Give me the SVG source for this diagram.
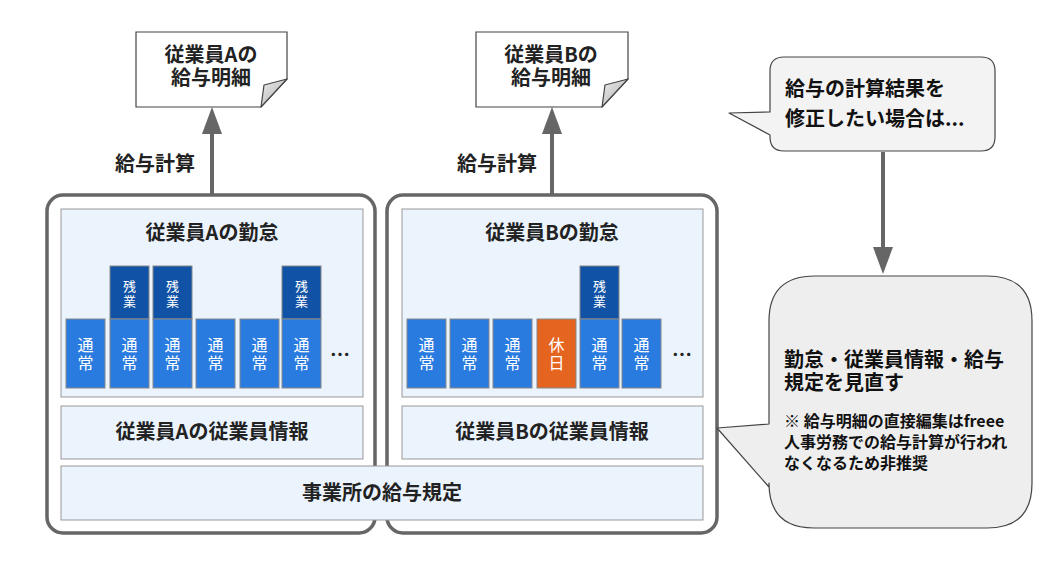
<svg xmlns="http://www.w3.org/2000/svg" width="1047" height="562" viewBox="0 0 1047 562">
<style>
text{font-family:"Noto Sans CJK JP","Noto Sans",sans-serif;}
.b{font-weight:bold;fill:#222;font-size:20px;text-anchor:middle;}
.cont{fill:#fff;stroke:#666;stroke-width:3.5;}
.panel{fill:#ebf3fc;stroke:#999;stroke-width:1;}
.n{fill:#2a7be0;stroke:#888;stroke-width:1;}
.o{fill:#0f52a6;stroke:#888;stroke-width:1;}
.h{fill:#e5641f;stroke:#888;stroke-width:1;}
.bt{fill:#fff;font-size:16px;text-anchor:middle;writing-mode:vertical-rl;letter-spacing:2px;}
.st{fill:#fff;font-size:13px;text-anchor:middle;writing-mode:vertical-rl;letter-spacing:2px;}
.doc{fill:#fff;stroke:#444;stroke-width:1.2;}
.flap{fill:url(#fg);stroke:#444;stroke-width:1.2;stroke-linejoin:round;}
.arr{stroke:#666;stroke-width:4;fill:none;}
.ah{fill:#666;}
.call{stroke:#444;stroke-width:1.2;stroke-linejoin:round;}
.cl{font-weight:bold;fill:#111;font-size:20px;}
.cs{font-weight:bold;fill:#111;font-size:16px;}
</style>
<defs>
<linearGradient id="fg" x1="0" y1="0" x2="1" y2="1">
<stop offset="0" stop-color="#eee"/><stop offset="1" stop-color="#aaa"/>
</linearGradient>
</defs>

<g id="connectors">
<line class="arr" x1="212" y1="195" x2="212" y2="130"/>
<polygon class="ah" points="212,107 202,134 222,134"/>
<line class="arr" x1="552" y1="195" x2="552" y2="130"/>
<polygon class="ah" points="552,107 542,134 562,134"/>
<line class="arr" x1="883" y1="152" x2="883" y2="250"/>
<polygon class="ah" points="883,274 873,247 893,247"/>
<text class="b" x="155" y="171">給与計算</text>
<text class="b" x="497" y="171">給与計算</text>
</g>

<g id="doc-a">
<path class="doc" d="M136,32 H287 V79 L261,107 H136 Z"/>
<path class="flap" d="M287,79 L264,85 L261,107 Z"/>
<text class="b" x="211" y="62">従業員Aの<tspan x="211" dy="23">給与明細</tspan></text>
</g>
<g id="doc-b">
<path class="doc" d="M476,32 H628 V79 L602,107 H476 Z"/>
<path class="flap" d="M628,79 L605,85 L602,107 Z"/>
<text class="b" x="551" y="62">従業員Bの<tspan x="551" dy="23">給与明細</tspan></text>
</g>

<g id="container-a">
<rect class="cont" x="47" y="195" width="328" height="338" rx="16"/>
</g>
<g id="container-b">
<rect class="cont" x="387" y="195" width="330" height="338" rx="16"/>
</g>

<g id="attendance-a">
<rect class="panel" x="61" y="209" width="302" height="188"/>
<text class="b" x="212" y="240">従業員Aの勤怠</text>
<rect class="n" x="66" y="319" width="39" height="69"/>
<rect class="o" x="110" y="266" width="39" height="53"/>
<rect class="n" x="110" y="319" width="39" height="69"/>
<rect class="o" x="153" y="266" width="39" height="53"/>
<rect class="n" x="153" y="319" width="39" height="69"/>
<rect class="n" x="196" y="319" width="39" height="69"/>
<rect class="n" x="240" y="319" width="39" height="69"/>
<rect class="o" x="282" y="266" width="39" height="53"/>
<rect class="n" x="282" y="319" width="39" height="69"/>
<text class="bt" x="85.5" y="355">通常</text>
<text class="bt" x="129.5" y="355">通常</text>
<text class="bt" x="172.5" y="355">通常</text>
<text class="bt" x="215.5" y="355">通常</text>
<text class="bt" x="259.5" y="355">通常</text>
<text class="bt" x="301.5" y="355">通常</text>
<text class="st" x="129.5" y="295">残業</text>
<text class="st" x="172.5" y="295">残業</text>
<text class="st" x="301.5" y="295">残業</text>
<text class="b" x="340" y="362">…</text>
</g>

<g id="attendance-b">
<rect class="panel" x="402" y="209" width="301" height="188"/>
<text class="b" x="552" y="240">従業員Bの勤怠</text>
<rect class="n" x="407" y="319" width="39" height="69"/>
<rect class="n" x="450" y="319" width="39" height="69"/>
<rect class="n" x="493" y="319" width="39" height="69"/>
<rect class="h" x="537" y="319" width="39" height="69"/>
<rect class="o" x="580" y="266" width="39" height="53"/>
<rect class="n" x="580" y="319" width="39" height="69"/>
<rect class="n" x="622" y="319" width="39" height="69"/>
<text class="bt" x="426.5" y="355">通常</text>
<text class="bt" x="469.5" y="355">通常</text>
<text class="bt" x="512.5" y="355">通常</text>
<text class="bt" x="556.5" y="355">休日</text>
<text class="bt" x="599.5" y="355">通常</text>
<text class="bt" x="641.5" y="355">通常</text>
<text class="st" x="599.5" y="295">残業</text>
<text class="b" x="682" y="362">…</text>
</g>

<g id="info-a">
<rect class="panel" x="61" y="406" width="302" height="53"/>
<text class="b" x="212" y="439">従業員Aの従業員情報</text>
</g>
<g id="info-b">
<rect class="panel" x="402" y="406" width="301" height="53"/>
<text class="b" x="552" y="439">従業員Bの従業員情報</text>
</g>
<g id="rules">
<rect class="panel" x="61" y="466" width="642" height="54"/>
<text class="b" x="382" y="500">事業所の給与規定</text>
</g>

<g id="callout-top">
<path class="call" fill="#f3f3f3" d="M784,57 H981 Q995,57 995,71 V137 Q995,151 981,151 H784 Q770,151 770,137 V135 L729,113 L770,112 V71 Q770,57 784,57 Z"/>
<text class="cl" x="785" y="96">給与の計算結果を<tspan x="785" dy="30">修正したい場合は...</tspan></text>
</g>

<g id="callout-bottom">
<path class="call" fill="#eeeeee" d="M815,276 H987 Q1032,276 1032,321 V483 Q1032,528 987,528 H814 Q769,528 769,483 V487 L717,428 L769,424 V321 Q769,276 815,276 Z"/>
<text class="cl" x="784" y="367">勤怠・従業員情報・給与<tspan x="784" dy="23">規定を見直す</tspan></text>
<text class="cs" x="784" y="427">※ 給与明細の直接編集はfreee<tspan x="784" dy="21">人事労務での給与計算が行われ</tspan><tspan x="784" dy="21">なくなるため非推奨</tspan></text>
</g>
</svg>
